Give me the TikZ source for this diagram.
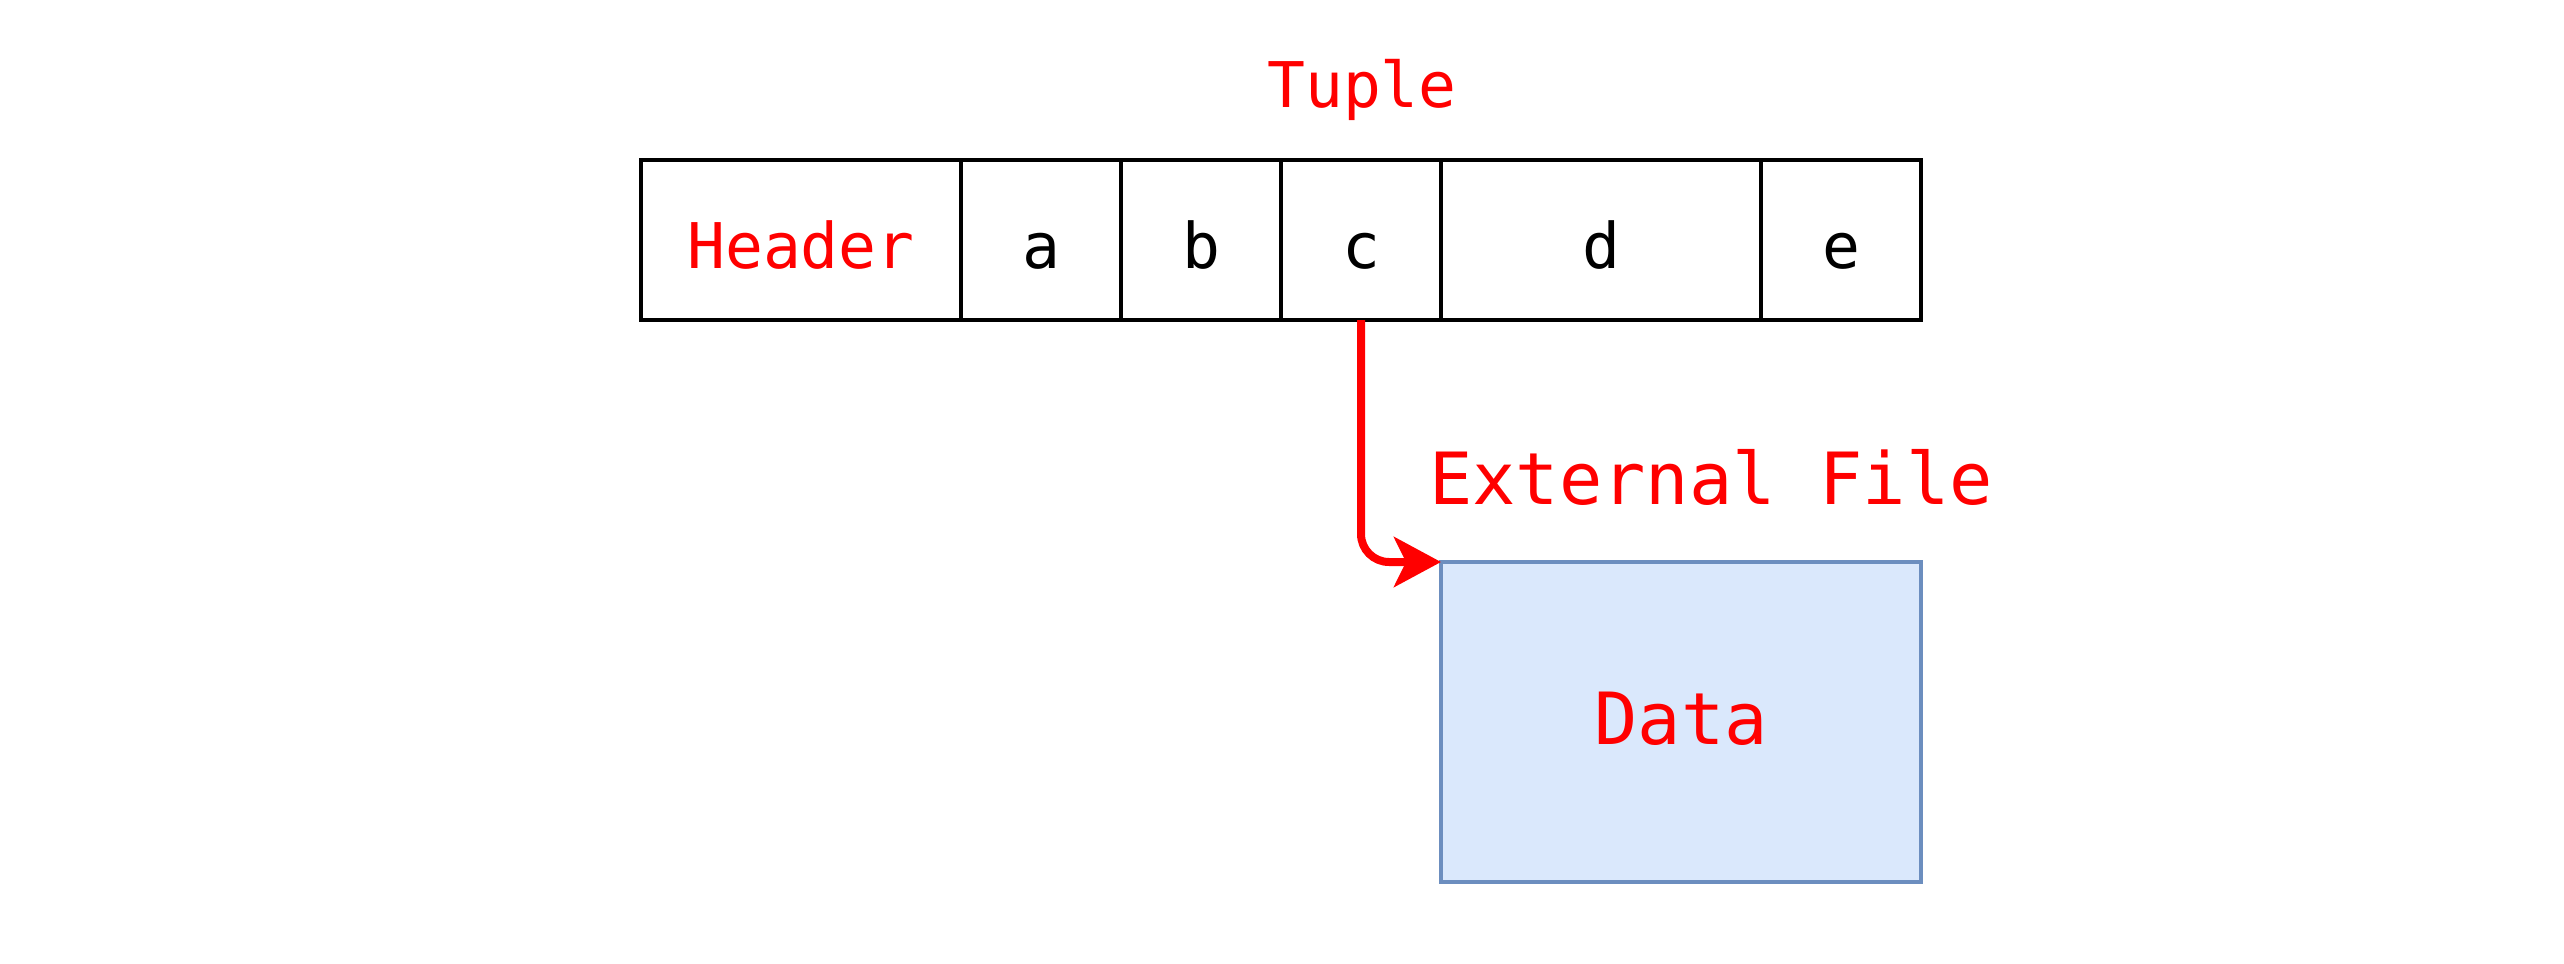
\documentclass[tikz,border=0pt]{standalone}
\usepackage{fontspec}
\setmonofont{DejaVu Sans Mono}
\usetikzlibrary{arrows.meta}
\definecolor{hotred}{HTML}{FF0000}
\definecolor{datafill}{HTML}{DAE8FC}
\definecolor{dataedge}{HTML}{6C8EBF}
\begin{document}
\begin{tikzpicture}[x=0.25pt, y=-0.25pt,
  every node/.style={font=\ttfamily\fontsize{15.75pt}{18pt}\selectfont, inner sep=0pt, outer sep=0pt},
  cell/.style={draw=black, line width=0.8pt, minimum height=40pt,
    text height=14pt, text depth=0pt},
  narrow/.style={cell, minimum width=40pt},
  wide/.style={cell, minimum width=80pt},
  label/.style={text=hotred},
  bigtext/.style={font=\ttfamily\fontsize{18pt}{21pt}\selectfont},
  databox/.style={draw=dataedge, fill=datafill, line width=1pt,
    minimum width=120pt, minimum height=80pt, text=hotred,
    text height=11pt, text depth=0pt, bigtext},
  link/.style={draw=hotred, line width=2pt, rounded corners=7pt,
    -{Stealth[length=11.75pt, width=12.5pt, inset=3pt]}}
]
\useasboundingbox (0,0) rectangle (2564,964);

% tuple label
\node[label, anchor=base] (tuple) at (1362,108) {Tuple};

% tuple row: header followed by the attribute cells
\node[wide, text=hotred] (header) at (801,240) {Header};
\node[narrow] (a) at (1041,240) {a};
\node[narrow] (b) at (1201,240) {b};
\node[narrow] (c) at (1361,240) {c};
\node[wide]   (d) at (1601,240) {d};
\node[narrow] (e) at (1841,240) {e};

% external storage
\node[label, bigtext, anchor=base] (extlabel) at (1711,504) {External File};
\node[databox] (data) at (1681,722) {Data};

% pointer from attribute c to the external data
\draw[link] (c.south) |- (data.north west);
\end{tikzpicture}
\end{document}
